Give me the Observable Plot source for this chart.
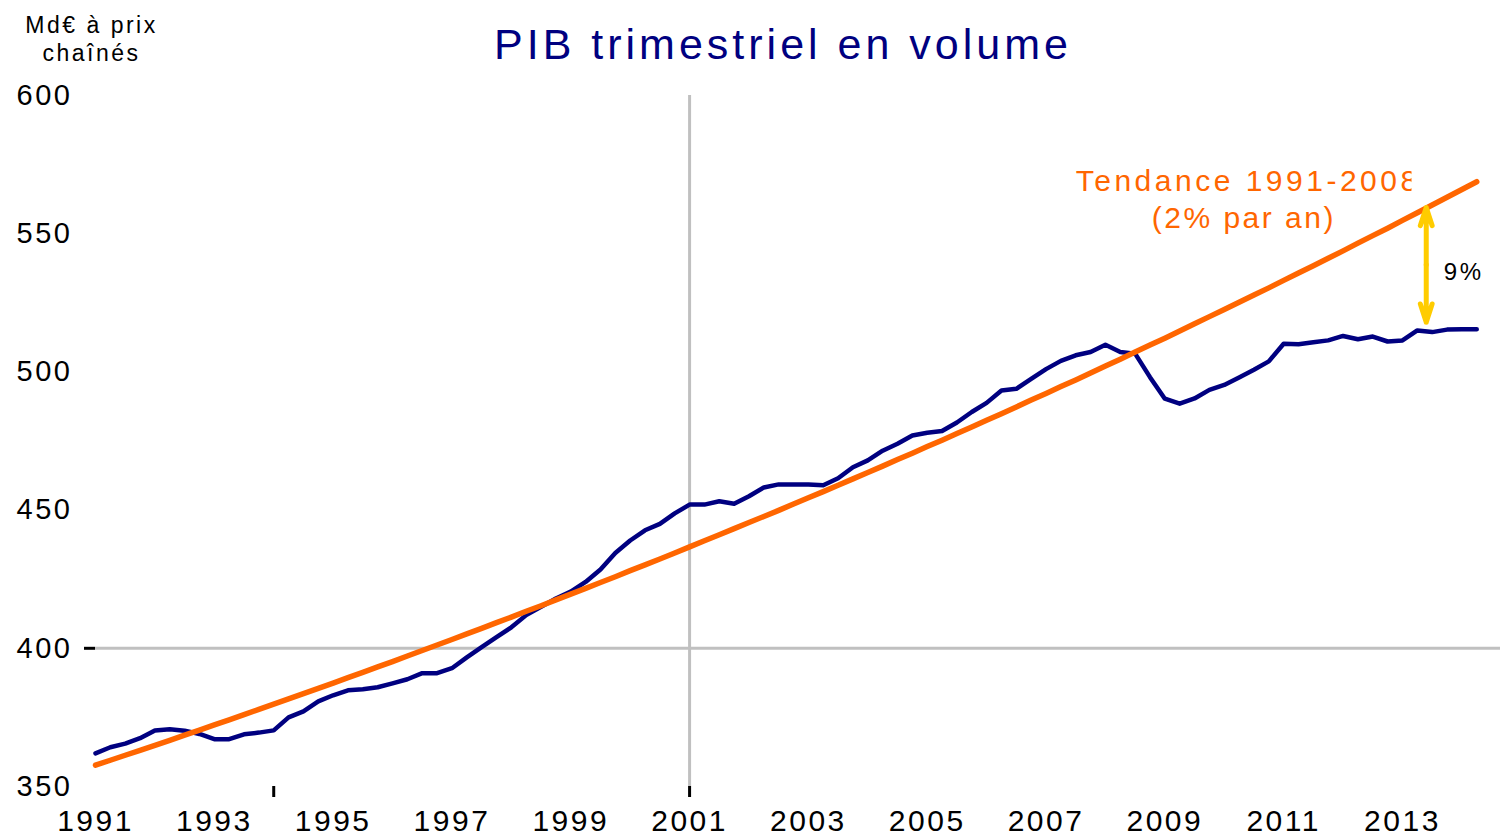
<!DOCTYPE html>
<html><head><meta charset="utf-8">
<script src="https://cdn.jsdelivr.net/npm/d3@7"></script>
<script src="https://cdn.jsdelivr.net/npm/@observablehq/plot@0.6"></script>
<style>
body{margin:0;background:#fff}
#chart svg{display:block}
</style>
</head><body><div id="chart"></div>
<script>
// Quarterly data, 1991Q1 .. 2014Q2
const startYear = 1991;
const gdp = [
  362, 364.2, 365.5, 367.5,
  370.3, 370.7, 370.2, 369,
  367.1, 367.1, 368.9, 369.5,
  370.3, 375, 377.2, 380.8,
  383, 384.8, 385.2, 385.9,
  387.3, 388.8, 391, 391,
  392.8, 396.7, 400.4, 404,
  407.6, 412, 415, 418,
  420.5, 424, 428.5, 434.5,
  439, 442.7, 445, 448.8,
  452, 452, 453.2, 452.3,
  455, 458.2, 459.3, 459.3,
  459.3, 459, 461.5, 465.5,
  468, 471.5, 474, 477,
  478, 478.6, 481.7, 485.5,
  488.8, 493.3, 493.9, 497.5,
  501, 504, 506, 507.2,
  509.8, 507.2, 506.6, 498.1,
  490.3, 488.5, 490.4, 493.5,
  495.3, 498, 500.8, 503.8,
  510.2, 510, 510.7, 511.4,
  513, 511.8, 512.8, 511,
  511.4, 515, 514.4, 515.3,
  515.4, 515.4
];
const trend = [
  357.7, 359.5, 361.3, 363.1,
  364.9, 366.7, 368.6, 370.4,
  372.3, 374.1, 376.0, 377.9,
  379.8, 381.7, 383.6, 385.5,
  387.4, 389.4, 391.3, 393.3,
  395.2, 397.2, 399.2, 401.2,
  403.2, 405.2, 407.2, 409.3,
  411.3, 413.4, 415.4, 417.5,
  419.6, 421.7, 423.8, 425.9,
  428.1, 430.2, 432.3, 434.5,
  436.7, 438.9, 441.1, 443.3,
  445.5, 447.7, 449.9, 452.2,
  454.5, 456.7, 459.0, 461.3,
  463.6, 465.9, 468.3, 470.6,
  473.0, 475.3, 477.7, 480.1,
  482.5, 484.9, 487.3, 489.8,
  492.2, 494.7, 497.1, 499.6,
  502.1, 504.6, 507.2, 509.7,
  512.2, 514.8, 517.4, 520.0,
  522.6, 525.2, 527.8, 530.4,
  533.1, 535.8, 538.4, 541.1,
  543.8, 546.6, 549.3, 552.0,
  554.8, 557.6, 560.4, 563.2,
  566.0, 568.8
];
const xTickYears = [1991, 1993, 1995, 1997, 1999, 2001, 2003, 2005, 2007, 2009, 2011, 2013];
const xMarkedYears = [1994, 2001];
const yTickValues = [350, 400, 450, 500, 550, 600];
const gridYValues = [400];
const gridXValues = [2001];
const gap = {x: 2013.4, top: 559.5, bottom: 518, label: "9%"};
const titleText = "PIB trimestriel en volume";
const unitText = "Md€ à prix\nchaînés";
const trendLabel1 = "Tendance 1991-2008";
const trendLabel2 = "(2% par an)";

const rows = gdp.map((v, i) => ({t: startYear + i / 4, v}));
const trendRows = trend.map((v, i) => ({t: startYear + i / 4, v}));
const mid = (gap.top + gap.bottom) / 2;
const arrows = [
  {x: gap.x, y1: mid, y2: gap.top},
  {x: gap.x, y1: mid, y2: gap.bottom}
];

const font = "'Liberation Sans', Arial, Helvetica, sans-serif";
const chart = Plot.plot({
  width: 1501, height: 836,
  marginLeft: 95, marginRight: 1, marginTop: 95, marginBottom: 50,
  style: {fontFamily: font, background: "#fff", color: "#000", overflow: "visible"},
  x: {domain: [1991, 2014.65]},
  y: {domain: [350, 600]},
  marks: [
    Plot.ruleY(gridYValues, {stroke: "#c0c0c0", strokeWidth: 3}),
    Plot.ruleX(gridXValues, {stroke: "#c0c0c0", strokeWidth: 3}),
    Plot.axisY({ticks: yTickValues, tickSize: 0, tickPadding: 23, fontSize: 29, label: null}),
    Plot.axisY({ticks: gridYValues, tickSize: 11, strokeWidth: 3, tickFormat: () => "", label: null}),
    Plot.axisX({ticks: xTickYears, tickSize: 0, tickPadding: 23, fontSize: 30, tickFormat: d => String(d), label: null}),
    Plot.axisX({ticks: xMarkedYears, tickSize: 11, strokeWidth: 3, tickFormat: () => "", label: null}),
    Plot.line(rows, {x: "t", y: "v", stroke: "#000080", strokeWidth: 4.5}),
    Plot.line(trendRows, {x: "t", y: "v", stroke: "#FF6600", strokeWidth: 5.5}),
    Plot.arrow(arrows, {x1: "x", x2: "x", y1: "y1", y2: "y2", stroke: "#FFCC00", strokeWidth: 5, headLength: 20, headAngle: 36}),
    Plot.text([{x: 2007.5, y: 568.9, s: trendLabel1}], {x: "x", y: "y", text: "s", textAnchor: "start", fill: "#FF6600", fontSize: 30}),
    Plot.text([{x: 2010.33, y: 555.5, s: trendLabel2}], {x: "x", y: "y", text: "s", fill: "#FF6600", fontSize: 30}),
    Plot.text([{x: 2014.03, y: 536, s: gap.label}], {x: "x", y: "y", text: "s", fill: "#000", fontSize: 24}),
    Plot.text([titleText], {frameAnchor: "top", lineAnchor: "middle", dx: -15, dy: -50.5, fill: "#000080", fontSize: 43}),
    Plot.text([unitText], {frameAnchor: "top-left", textAnchor: "middle", lineAnchor: "middle", dx: -4, dy: -57.5, fill: "#000", fontSize: 23, lineHeight: 1.2})
  ]
});
document.getElementById("chart").appendChild(chart);

const svg = d3.select(chart);
svg.style("letter-spacing", "2.5px");
svg.selectAll("text").each(function() {
  const t = this.textContent;
  if (t === titleText) d3.select(this).style("letter-spacing", "4px");
  if (t === trendLabel1) d3.select(this).style("letter-spacing", "3.5px");
  if (t.startsWith("Md€")) d3.select(this).style("letter-spacing", "2.5px");
});
// clip the trend label like the reference text box
const defs = svg.append("defs");
defs.append("clipPath").attr("id", "trendclip").attr("clipPathUnits", "userSpaceOnUse")
  .append("rect").attr("x", 0).attr("y", 0).attr("width", 1411).attr("height", 836);
svg.selectAll("text").filter(function() { return this.textContent === trendLabel1; })
  .each(function() { d3.select(this.parentNode).attr("clip-path", "url(#trendclip)"); });
</script>
</body></html>
